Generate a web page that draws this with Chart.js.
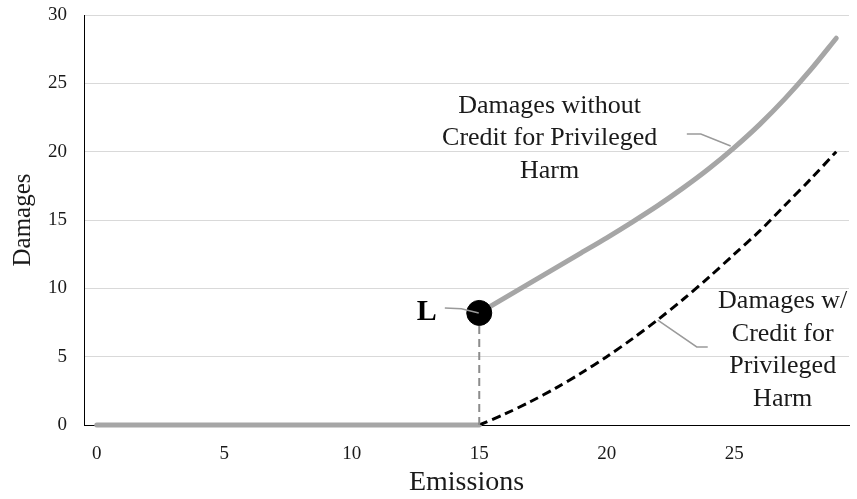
<!DOCTYPE html>
<html>
<head>
<meta charset="utf-8">
<script src="https://cdn.jsdelivr.net/npm/chart.js@4.4.1/dist/chart.umd.min.js"></script>
<style>
  html, body { margin: 0; padding: 0; background: #fff; }
  canvas { display: block; }
</style>
</head>
<body>
<canvas id="chart" width="857" height="499"></canvas>
<script>
/* ---- data ---- */
const xTicks = [0, 5, 10, 15, 20, 25];

// flat stretch: no damages up to the threshold
const flatX = [0, 15];
const flatY = [0, 0];

// damages without credit for privileged harm
const emissions = [15, 16, 17, 18, 19, 20, 21, 22, 23, 24, 25, 26, 27, 28, 29];
const damagesWithout = [8.2, 9.3, 10.4, 11.5, 12.6, 13.7, 14.85, 16.05, 17.35, 18.75, 20.3, 22.0, 23.9, 26.0, 28.3];

// damages with credit for privileged harm
const damagesWith = [0, 0.8, 1.7, 2.7, 3.8, 5.0, 6.3, 7.7, 9.2, 10.8, 12.5, 14.2, 16.1, 18.0, 20.0];

// point L and its drop line
const pointL = { x: 15, y: 8.2 };

// annotation text (anchored in data units)
const labelWithout = ['Damages without', 'Credit for Privileged', 'Harm'];
const labelWith = ['Damages w/', 'Credit for', 'Privileged', 'Harm'];
const labelAnchors = [
    { lines: labelWithout, x: 17.76, y: 22.83 },
    { lines: labelWith, x: 26.9, y: 8.56 }
];
const leaders = [
    [[23.14, 21.29], [23.69, 21.29], [24.86, 20.41]],
    [[22.0, 7.68], [23.53, 5.71], [23.96, 5.71]],
    [[13.65, 8.56], [14.3, 8.5], [14.98, 8.2]]
];
const lLabel = { text: 'L', x: 12.55, y: 7.68 };

/* ---- styling ---- */
const SERIF = '"Liberation Serif", "Times New Roman", serif';
const GRAY = '#a6a6a6';

const toPts = (xs, ys) => xs.map((v, i) => ({ x: v, y: ys[i] }));

// drop the automatic label overflow padding so the layout padding decides the plot edges
function noScalePadding(s) {
    s.paddingTop = 0;
    s.paddingBottom = 0;
    s.paddingLeft = 0;
    s.paddingRight = 0;
}

/* ---- annotation plugin ---- */
const notes = {
    id: 'notes',
    afterDatasetsDraw(chart) {
        const { ctx, scales: { x, y } } = chart;
        ctx.save();

        ctx.strokeStyle = '#9a9a9a';
        ctx.lineWidth = 1.5;
        leaders.forEach(pts => {
            ctx.beginPath();
            pts.forEach(([a, b], i) => {
                const px = x.getPixelForValue(a), py = y.getPixelForValue(b);
                if (i) ctx.lineTo(px, py); else ctx.moveTo(px, py);
            });
            ctx.stroke();
        });

        ctx.fillStyle = '#1a1a1a';
        ctx.font = `26px ${SERIF}`;
        ctx.textAlign = 'center';
        ctx.textBaseline = 'alphabetic';
        labelAnchors.forEach(a => {
            const cx = x.getPixelForValue(a.x);
            const by = y.getPixelForValue(a.y);
            a.lines.forEach((t, i) => ctx.fillText(t, cx, by + i * 32.5));
        });

        ctx.font = `bold 30px ${SERIF}`;
        ctx.textAlign = 'left';
        ctx.fillStyle = '#000';
        ctx.fillText(lLabel.text, x.getPixelForValue(lLabel.x), y.getPixelForValue(lLabel.y));

        ctx.restore();
    }
};

new Chart(document.getElementById('chart'), {
    type: 'line',
    data: {
        datasets: [
            {
                data: [pointL],
                showLine: false,
                pointRadius: 12.5,
                pointBackgroundColor: '#000',
                pointBorderColor: '#000',
                order: 0
            },
            {
                data: [{ x: pointL.x, y: 0 }, pointL],
                borderColor: '#8c8c8c',
                borderWidth: 2,
                borderDash: [8, 5],
                pointRadius: 0,
                order: 1
            },
            {
                data: toPts(emissions, damagesWith),
                borderColor: '#000',
                borderWidth: 3,
                borderDash: [9, 5],
                pointRadius: 0,
                tension: 0.3,
                order: 2
            },
            {
                data: toPts(emissions, damagesWithout),
                borderColor: GRAY,
                borderWidth: 5,
                borderCapStyle: 'round',
                pointRadius: 0,
                tension: 0.3,
                order: 3
            },
            {
                data: toPts(flatX, flatY),
                borderColor: GRAY,
                borderWidth: 5,
                borderCapStyle: 'round',
                pointRadius: 0,
                clip: false,
                order: 4
            }
        ]
    },
    options: {
        responsive: false,
        animation: false,
        devicePixelRatio: 1,
        layout: { autoPadding: false, padding: { top: 15, right: 8, left: 0, bottom: 0 } },
        plugins: { legend: { display: false }, tooltip: { enabled: false } },
        scales: {
            x: {
                type: 'linear',
                min: -0.5,
                max: 29.5,
                afterBuildTicks: axis => { axis.ticks = xTicks.map(v => ({ value: v })); },
                afterFit: s => { s.height = 74; noScalePadding(s); },
                grid: { display: false },
                border: { display: true, color: '#000', width: 1 },
                ticks: {
                    color: '#1a1a1a',
                    font: { family: SERIF, size: 19 },
                    padding: 10,
                    maxRotation: 0
                },
                title: {
                    display: true,
                    text: 'Emissions',
                    color: '#1a1a1a',
                    font: { family: SERIF, size: 28 },
                    padding: { top: 0, bottom: 0 }
                }
            },
            y: {
                min: 0,
                max: 30,
                afterFit: s => { s.width = 84; noScalePadding(s); },
                ticks: {
                    stepSize: 5,
                    color: '#1a1a1a',
                    font: { family: SERIF, size: 19 },
                    padding: 17
                },
                grid: { color: '#d9d9d9', lineWidth: 1, drawTicks: false },
                border: { display: true, color: '#000', width: 1 },
                title: {
                    display: true,
                    text: 'Damages',
                    color: '#1a1a1a',
                    font: { family: SERIF, size: 25 },
                    padding: { top: 8, bottom: 0 }
                }
            }
        }
    },
    plugins: [notes]
});
</script>
</body>
</html>
